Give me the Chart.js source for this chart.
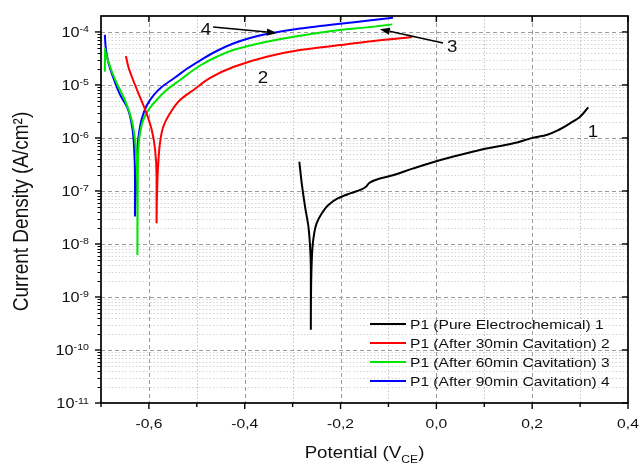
<!DOCTYPE html>
<html>
<head>
<meta charset="utf-8">
<script src="https://cdn.jsdelivr.net/npm/chart.js@4.4.1/dist/chart.umd.min.js"></script>
<style>
  html, body { margin: 0; padding: 0; background: #ffffff; }
  #wrap { width: 642px; height: 466px; }
</style>
</head>
<body>
<div id="wrap"><canvas id="tafel" width="642" height="466"></canvas></div>
<script>
// Potentiodynamic polarization curves of P1: potential (V vs CE) and current density (A/cm²)

const pureE = [-0.286, -0.281, -0.274, -0.267, -0.264, -0.262, -0.262, -0.260, -0.257, -0.250, -0.239, -0.226, -0.205, -0.180, -0.156, -0.147, -0.139, -0.118, -0.097, -0.048, 0.022, 0.091, 0.161, 0.202, 0.230, 0.258, 0.279, 0.300, 0.317];
const pureI = [3.56e-7, 1.39e-7, 5.0e-8, 2.1e-8, 1.03e-8, 3.2e-9, 2.4e-10, 5.0e-9, 1.19e-8, 2.45e-8, 3.8e-8, 5.4e-8, 7.3e-8, 9.0e-8, 1.07e-7, 1.2e-7, 1.44e-7, 1.72e-7, 1.91e-7, 2.67e-7, 4.13e-7, 5.93e-7, 7.93e-7, 1.01e-6, 1.14e-6, 1.46e-6, 1.89e-6, 2.52e-6, 3.79e-6];

const cav30E = [-0.648, -0.643, -0.633, -0.619, -0.605, -0.594, -0.587, -0.584, -0.584, -0.582, -0.580, -0.577, -0.570, -0.556, -0.535, -0.507, -0.473, -0.424, -0.354, -0.285, -0.201, -0.145, -0.090, -0.051];
const cav30I = [3.52e-5, 2.21e-5, 1.24e-5, 6.0e-6, 2.92e-6, 1.41e-6, 5.93e-7, 1.86e-7, 2.45e-8, 1.86e-7, 3.84e-7, 7.93e-7, 1.63e-6, 2.92e-6, 5.2e-6, 8.04e-6, 1.35e-5, 2.18e-5, 3.41e-5, 4.56e-5, 5.67e-5, 6.55e-5, 7.36e-5, 8.03e-5];

const cav60E = [-0.692, -0.6915, -0.681, -0.667, -0.650, -0.636, -0.629, -0.6255, -0.624, -0.624, -0.6232, -0.622, -0.6186, -0.612, -0.601, -0.584, -0.563, -0.535, -0.493, -0.4585, -0.424, -0.354, -0.285, -0.201, -0.145, -0.092];
const cav60I = [1.78e-5, 4.92e-5, 2.21e-5, 1.07e-5, 5.2e-6, 2.18e-6, 9.15e-7, 2.87e-7, 6.75e-8, 6.2e-9, 1.86e-7, 5.93e-7, 1.22e-6, 2.18e-6, 3.37e-6, 5.2e-6, 8.04e-6, 1.24e-5, 2.33e-5, 3.41e-5, 4.56e-5, 6.55e-5, 8.5e-5, 1.09e-4, 1.22e-4, 1.39e-4];

const cav90E = [-0.692, -0.690, -0.685, -0.674, -0.660, -0.646, -0.640, -0.634, -0.631, -0.629, -0.629, -0.6255, -0.6234, -0.6201, -0.615, -0.6046, -0.5908, -0.5733, -0.5455, -0.5184, -0.4934, -0.4585, -0.4239, -0.389, -0.3541, -0.2846, -0.2012, -0.1454, -0.0905];
const cav90I = [8.8e-5, 4.9e-5, 2.75e-5, 1.34e-5, 6.5e-6, 3.9e-6, 2.7e-6, 1.41e-6, 6.8e-7, 1.86e-7, 3.3e-8, 2.28e-7, 7.36e-7, 1.35e-6, 2.28e-6, 4.09e-6, 6.32e-6, 9.14e-6, 1.38e-5, 2.09e-5, 2.89e-5, 4.37e-5, 6.05e-5, 7.69e-5, 9.14e-5, 1.16e-4, 1.43e-4, 1.62e-4, 1.85e-4];

const seriesLabels = [
  'P1 (Pure Electrochemical) 1',
  'P1 (After 30min Cavitation) 2',
  'P1 (After 60min Cavitation) 3',
  'P1 (After 90min Cavitation) 4'
];
const curveTags = ['1', '2', '3', '4'];

// axis ticks
const xMajorTicks = [-0.6, -0.4, -0.2, 0.0, 0.2, 0.4];
const xMinorTicks = [-0.7, -0.5, -0.3, -0.1, 0.1, 0.3];
const yDecades = [-11, -10, -9, -8, -7, -6, -5, -4];

// ---------------------------------------------------------------------------
const FONT = '"Liberation Sans", Arial, Helvetica, sans-serif';
const INK = '#111111';
const colors = ['#000000', '#ff0000', '#00e600', '#0000ff'];

function zip(E, I) { return E.map((e, k) => ({ x: e, y: I[k] })); }

const curves = [[pureE, pureI], [cav30E, cav30I], [cav60E, cav60I], [cav90E, cav90I]];
const datasets = curves.map((c, k) => ({
  label: seriesLabels[k],
  data: zip(c[0], c[1]),
  borderColor: colors[k],
  backgroundColor: colors[k],
  borderWidth: 2,
  pointRadius: 0,
  fill: false,
  cubicInterpolationMode: 'monotone'
}));

// curve tags and pointer arrows, placed in data units
const tagPlacement = [
  { x: 0.327, y: 1.35e-6 },
  { x: -0.362, y: 1.41e-5 },
  { x: 0.033, y: 5.43e-5 },
  { x: -0.481, y: 1.14e-4 }
];
const arrowPlacement = [
  { from: { x: -0.466, y: 1.24e-4 }, to: { x: -0.333, y: 9.55e-5 } },
  { from: { x: 0.014, y: 6.19e-5 }, to: { x: -0.118, y: 1.13e-4 } }
];

function drawText(ctx, s, x, y, size, align, baseline, sx) {
  ctx.save();
  ctx.translate(x, y);
  ctx.scale(sx || 1, 1);
  ctx.font = size + 'px ' + FONT;
  ctx.fillStyle = INK;
  ctx.textAlign = align || 'left';
  ctx.textBaseline = baseline || 'alphabetic';
  ctx.fillText(s, 0, 0);
  ctx.restore();
}
function textWidth(ctx, s, size, sx) {
  ctx.save();
  ctx.font = size + 'px ' + FONT;
  const w = ctx.measureText(s).width * (sx || 1);
  ctx.restore();
  return w;
}
function fmtComma(v) {
  const r = Math.round(v * 10) / 10;
  return (r === 0 ? 0 : r).toFixed(1).replace('.', ',');
}

const framePlugin = {
  id: 'frame',
  beforeDraw(chart) {
    const ctx = chart.ctx;
    ctx.save();
    ctx.fillStyle = '#ffffff';
    ctx.fillRect(0, 0, chart.width, chart.height);
    ctx.restore();
  },
  beforeDatasetsDraw(chart) {
    const { ctx, chartArea: a, scales: { x, y } } = chart;
    ctx.save();
    ctx.beginPath();
    ctx.rect(a.left, a.top, a.right - a.left, a.bottom - a.top);
    ctx.clip();
    ctx.lineWidth = 1;
    // minor horizontal grid
    ctx.strokeStyle = '#d4d4d4';
    ctx.setLineDash([1.5, 2]);
    yDecades.forEach(e => {
      for (let m = 2; m <= 9; m++) {
        const v = m * Math.pow(10, e);
        if (v >= y.max) continue;
        const py = Math.round(y.getPixelForValue(v)) + 0.5;
        ctx.beginPath(); ctx.moveTo(a.left, py); ctx.lineTo(a.right, py); ctx.stroke();
      }
    });
    // minor vertical grid
    ctx.strokeStyle = '#c4c4c4';
    xMinorTicks.forEach(v => {
      const px = Math.round(x.getPixelForValue(v)) + 0.5;
      ctx.beginPath(); ctx.moveTo(px, a.top); ctx.lineTo(px, a.bottom); ctx.stroke();
    });
    // major grid
    ctx.strokeStyle = '#9c9c9c';
    ctx.setLineDash([4, 3]);
    yDecades.forEach(e => {
      const py = Math.round(y.getPixelForValue(Math.pow(10, e))) + 0.5;
      ctx.beginPath(); ctx.moveTo(a.left, py); ctx.lineTo(a.right, py); ctx.stroke();
    });
    xMajorTicks.forEach(v => {
      const px = Math.round(x.getPixelForValue(v)) + 0.5;
      ctx.beginPath(); ctx.moveTo(px, a.top); ctx.lineTo(px, a.bottom); ctx.stroke();
    });
    ctx.restore();
  },
  afterDatasetsDraw(chart) {
    const { ctx, chartArea: a, scales: { x, y } } = chart;
    ctx.save();
    ctx.strokeStyle = '#000000';
    ctx.fillStyle = '#000000';
    ctx.setLineDash([]);

    // frame
    ctx.lineWidth = 1.7;
    ctx.strokeRect(a.left, a.top, a.right - a.left, a.bottom - a.top);

    // x ticks
    ctx.lineWidth = 1.4;
    xMajorTicks.forEach(v => {
      const px = x.getPixelForValue(v);
      ctx.beginPath(); ctx.moveTo(px, a.bottom); ctx.lineTo(px, a.bottom + 6); ctx.stroke();
      ctx.beginPath(); ctx.moveTo(px, a.top); ctx.lineTo(px, a.top + 6); ctx.stroke();
    });
    xMinorTicks.forEach(v => {
      const px = x.getPixelForValue(v);
      ctx.beginPath(); ctx.moveTo(px, a.bottom); ctx.lineTo(px, a.bottom + 4); ctx.stroke();
    });
    // y ticks
    yDecades.forEach(e => {
      const py = y.getPixelForValue(Math.pow(10, e));
      ctx.beginPath(); ctx.moveTo(a.left, py); ctx.lineTo(a.left - 6, py); ctx.stroke();
      ctx.beginPath(); ctx.moveTo(a.right, py); ctx.lineTo(a.right - 6, py); ctx.stroke();
    });
    ctx.lineWidth = 1;
    yDecades.forEach(e => {
      for (let m = 2; m <= 9; m++) {
        const v = m * Math.pow(10, e);
        if (v >= y.max) continue;
        const py = Math.round(y.getPixelForValue(v)) + 0.5;
        ctx.beginPath(); ctx.moveTo(a.left, py); ctx.lineTo(a.left - 3.5, py); ctx.stroke();
      }
    });

    // x tick labels
    xMajorTicks.forEach(v => {
      drawText(ctx, fmtComma(v), x.getPixelForValue(v), a.bottom + 25, 13.5, 'center', 'alphabetic', 1.16);
    });
    // y tick labels: 10 with superscript exponent
    const right = a.left - 12;
    yDecades.forEach(e => {
      const py = y.getPixelForValue(Math.pow(10, e));
      const sup = '-' + Math.abs(e);
      const wSup = textWidth(ctx, sup, 9.5, 1.12);
      drawText(ctx, sup, right, py + 0.5, 9.5, 'right', 'alphabetic', 1.12);
      drawText(ctx, '10', right - wSup, py + 5, 14, 'right', 'alphabetic', 1.16);
    });

    // axis titles
    const cx = (a.left + a.right) / 2;
    const mainSize = 17, subSize = 11, sxT = 1.1;
    const p1 = 'Potential (V', sub = 'CE', p2 = ')';
    const w1 = textWidth(ctx, p1, mainSize, sxT), ws = textWidth(ctx, sub, subSize, sxT), w2 = textWidth(ctx, p2, mainSize, sxT);
    let tx = cx - (w1 + ws + w2) / 2;
    const by = 458;
    drawText(ctx, p1, tx, by, mainSize, 'left', 'alphabetic', sxT); tx += w1;
    drawText(ctx, sub, tx, by + 5, subSize, 'left', 'alphabetic', sxT); tx += ws;
    drawText(ctx, p2, tx, by, mainSize, 'left', 'alphabetic', sxT);

    ctx.save();
    ctx.translate(22, (a.top + a.bottom) / 2 + 2);
    ctx.rotate(-Math.PI / 2);
    ctx.scale(1, 1.12);
    ctx.font = '19px ' + FONT;
    ctx.fillStyle = INK;
    ctx.textAlign = 'center';
    ctx.textBaseline = 'middle';
    ctx.fillText('Current Density (A/cm²)', 0, 0);
    ctx.restore();

    // legend
    chart.data.datasets.forEach((ds, k) => {
      const ly = 324 + k * 19;
      ctx.strokeStyle = ds.borderColor;
      ctx.lineWidth = 2;
      ctx.beginPath(); ctx.moveTo(370, ly); ctx.lineTo(406, ly); ctx.stroke();
      drawText(ctx, ds.label, 410, ly + 5, 13.3, 'left', 'alphabetic', 1.17);
    });

    // pointer arrows
    ctx.strokeStyle = '#000000';
    ctx.fillStyle = '#000000';
    ctx.lineWidth = 1.6;
    arrowPlacement.forEach(ar => {
      const x0 = x.getPixelForValue(ar.from.x), y0 = y.getPixelForValue(ar.from.y);
      const x1 = x.getPixelForValue(ar.to.x), y1 = y.getPixelForValue(ar.to.y);
      const ang = Math.atan2(y1 - y0, x1 - x0);
      const L = 10, W = 3.6;
      const bx = x1 - L * Math.cos(ang), by2 = y1 - L * Math.sin(ang);
      ctx.beginPath(); ctx.moveTo(x0, y0); ctx.lineTo(bx, by2); ctx.stroke();
      ctx.beginPath();
      ctx.moveTo(x1, y1);
      ctx.lineTo(bx + W * Math.sin(ang), by2 - W * Math.cos(ang));
      ctx.lineTo(bx - W * Math.sin(ang), by2 + W * Math.cos(ang));
      ctx.closePath(); ctx.fill();
    });

    // curve tags
    tagPlacement.forEach((t, k) => {
      drawText(ctx, curveTags[k], x.getPixelForValue(t.x), y.getPixelForValue(t.y) + 6, 17, 'center', 'alphabetic', 1.1);
    });
    ctx.restore();
  }
};

// Current density is the index axis, so the monotone spline follows each
// branch of the polarization curve and keeps the sharp corrosion-potential cusp.
new Chart(document.getElementById('tafel'), {
  type: 'line',
  data: { datasets },
  options: {
    indexAxis: 'y',
    responsive: false,
    animation: false,
    devicePixelRatio: 1,
    layout: { padding: { left: 0, right: 14, top: 16, bottom: 0 } },
    plugins: { legend: { display: false }, tooltip: { enabled: false } },
    scales: {
      x: {
        type: 'linear', min: -0.7, max: 0.4,
        ticks: { display: false }, grid: { display: false }, border: { display: false },
        afterFit(s) { s.height = 63; }
      },
      y: {
        type: 'logarithmic', min: 1e-11, max: 2e-4,
        ticks: { display: false }, grid: { display: false }, border: { display: false },
        afterFit(s) { s.width = 101; }
      }
    }
  },
  plugins: [framePlugin]
});
</script>
</body>
</html>
